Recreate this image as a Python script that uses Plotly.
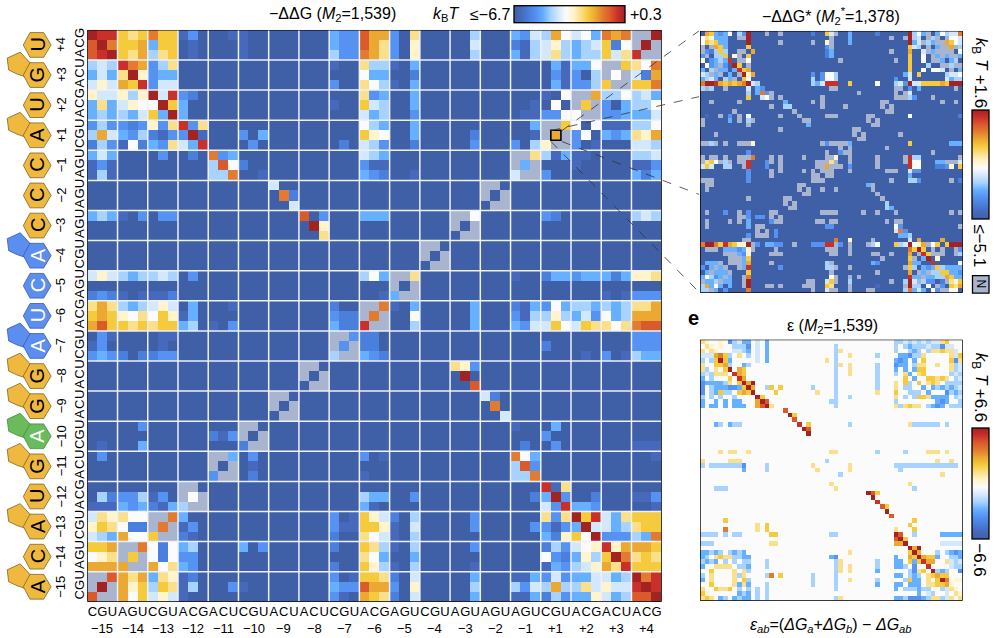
import plotly.graph_objects as go

# ---------------- data ----------------
POSITIONS = ["−15","−14","−13","−12","−11","−10","−9","−8","−7","−6","−5","−4","−3","−2","−1","+1","+2","+3","+4"]
MUTATIONS = ["CGU","AGU","CGU","ACG","ACU","CGU","ACU","ACU","CGU","ACG","AGU","CGU","AGU","AGU","AGU","CGU","ACG","ACU","ACG"]
SEQUENCE  = ["A","C","A","U","G","A","G","G","A","U","C","A","C","C","C","A","U","G","U"]
SEQ_GROUP = ["y","y","y","y","y","g","y","y","b","b","b","b","y","y","y","y","y","y","y"]

# shade codes: 16 steps per panel, n = no data; rows run top to bottom, the matrix mirrors across its antidiagonal
CODES = ".123456789abcdef"
LEVELS_DDG  = [-6.7,-6.23,-5.77,-5.3,-4.83,-4.37,-3.9,-3.43,-2.97,-2.5,-2.03,-1.57,-1.1,-0.63,-0.17,0.3]
LEVELS_STAR = [-5.1,-4.65,-4.21,-3.76,-3.31,-2.87,-2.42,-1.97,-1.53,-1.08,-0.63,-0.19,0.26,0.71,1.15,1.6]
LEVELS_EPS  = [-6.6,-5.72,-4.84,-3.96,-3.08,-2.2,-1.32,-0.44,0.44,1.32,2.2,3.08,3.96,4.84,5.72,6.6]

DDG_ROWS = [
"fee a9a caa 13. ..1 1.. ... ... 433 dbb 3.9 ... ..5 ... 436 5b7 674 cbc nnf",
"dfc aab 4aa .1. ... 1.. ... ... 433 db9 3.8 ... ..6 ... 215 685 456 a27 nf",
"def a9b 59a .1. ... 1.. ... ... 533 cb9 3.8 ... ..5 ... 415 695 455 a69 e",
"565 ecb 359 ... ... ... ... ... 1.. 955 1.4 ... ... ... ... .41 447 nna",
"464 9f8 344 ... ... ... ... ... ... 744 ..2 ... ... ... ... .31 3.5 n7",
"686 bae 366 ... ... ... ... ... 3.. 975 1.4 ... ... ... ... .41 335 a",
"866 858 f6e 32. ... ... ... ... ... 934 ..4 ... ... ... ... 1.7 nnb",
"494 687 7fa 4.. ... ... ... ... 1.. a65 ..4 ... ... ... ..1 .7. na",
"454 546 a4f 4.. ... ... ... ... ... 645 ..3 ... ... ... .11 337 7",
"353 323 839 e39 ... ... ... ... ... 754 ..4 ... ... ... ..4 nna",
"5b6 435 213 3f1 ... 3.4 ... ... ... a87 ..4 ... ..2 ... ..1 nb",
"253 172 439 64e ... .3. ... ... .2. 653 ..2 ... ..3 ... 3.5 8",
"464 ... .3. .2. c34 ... ... ... ... 654 ... ... ... ... nn9",
"131 ... ... ... 5d7 2.. ... ... ... 311 ... ... ... ... n4",
"151 ... ... ... 55c ..1 ... ... ... 432 ..1 ... ... ... 6",
"... ... ... ... ... ... 6.. ... ... ... ... ... ... nn.",
"... ... ... ... ... ... .c2 ... ... ... ... ... ... n.",
"... ... ... ... ... ... ..6 ... ... ... ... ... ... .",
"454 1.3 .33 ... ... ... ... d.3 ... 444 ... ... nn7",
"... ... ... ... ... ... ... .f8 ... ... ... ... n.",
"... ... ... ... ... ... ... ..9 ... ... ... ... .",
"... ... ... ... ... ... ... ... ... ... ... nn.",
"... ... ... ... ... ... ... ... ... ... ... n.",
"... ... ... ... ... ... ... ... ... ... ... .",
"686 545 565 .3. ... ... ... ... ... 574 nn9",
"... ... ... ... ... ... ... ... ... ... n.",
"232 1.1 112 ... ... ... ... ... ... ..1 4",
"9b9 545 686 .4. ..1 ... ... ... 2.. nnc",
"aba 879 7a8 14. ... ... ... ... 322 nc",
"bda a9a 9aa 45. 1.3 ... ... ... 422 e",
".31 ... .11 ... ... ... ... ... nn3",
"13. ... .1. ... ... ... ... ... n3",
"343 2.2 233 ... ... ... ... ... 5",
"... ... ... ... ... ... ... nn.",
"... ... ... ... ... ... ... n.",
"... ... ... ... ... ... ... .",
"... ... ... ... ... ... nn.",
"... ... ... ... ... ... n.",
"... ... ... ... ... ... .",
"... ..3 ... ... ... nn.",
"... ... ... ... 213 n.",
".1. ..4 ... ... ... 2",
".3. ... ... ... nn4",
"... ... ... ... n.",
"... ... ... ... 3",
"... ... ... nn.",
".52 335 13. n7",
"111 434 214 5",
"698 977 nnc",
"8a9 722 nc",
"654 b77 a",
"aab nnc",
"789 na",
"bbb b",
"nnd",
"nf",
"d",
]

STAR_ROWS = [
".ba 434 7.5 3f. ..n ..n ... ... 2.. a6n ..4 ... ..2 ... ... f57 4n. 475 66c",
"798 444 ..n nf. ... ... ... ... ... .n. ..4 ... ... ..n ..n f56 .n5 n.n 77",
"7a9 a44 ... .f. ... ..n ... ... n.. 8n. ..4 ... ... ... ... f46 n54 nnb a",
"n.n ba4 ... .a. ... ... ... ... ... 3n. ... ... ... ... ... a65 .n. 4nn",
"n32 5a5 ..n n.b ... ... ... ... ... 24. ... ... ... ..n ... b.. 6n4 nnn",
"3n. 55a .8n .a. ... ... ... ... ... 24. ... ... ... ... ... a.. 7.n 4n",
"7.3 454 e.n n7. ... ... ... ... ... ... n.. ... ... ... n.. a.. 7.n",
".73 4n3 .fa .n. ... ... ... ... ... ... ... ... ... ... ... a.. .5n",
"4.5 n44 .4e ab. ... ... ... ... ... ... ... ... ... ... ... a.. 7",
"65n 4n. 4.n f8b ... ... ... ... 3.3 775 ... ... ... ... ..4 6.a",
"456 4.5 4n. a7. ... ... ... ... 5.3 775 ... ... ... ... 3.. 6.",
"cff eba bab cf6 5.. ... ... ... 546 eee ..a ... ..7 ... 563 f",
"5n5 ..n ... .6. 43. ... ... ... ... .nn ... ... ... ... nn.",
"... ... ... .5. 4c3 n.. ... ... ... ... ... .n. ... ... n.",
"... ... ... .a. .67 n.n ... ... ..n ... ... ... ... ... n",
"..n ... ..n ... ... ... 4.. ... n.n ... ... ... ... nn.",
"... ... ... ... ... n.. 55. ... ..n ... .n. ... ... n.",
"... ... .n. ... ... ... ..n ... ... ... ... ... ... .",
".1. .n. 3.n .7. ... ..n ... n.. ... nnn ... ... nn.",
"n.. ... 4.n .5n ... ... ... .nn ... ... ... ... n.",
"n.. ... ... .n. ... ... ... ..4 ... ... ... ... .",
"... ... ... ... ... ..n ... ... ... ... ... nn.",
"... n.. ... ... ... ... ... ... ... ... ... n.",
"... ... ... ... ... ... ... ... ... ... ... .",
"nn5 n.n ..n nn8 ... ... ... ... ..n 3nn nn4",
"... ... ... ... ... ... ... ... ... ... n.",
"... ... ... .3. ... ... ... ... ... n.. 3",
"n.n n.n ..n nnc ... n.n ... .n. ... nn8",
"n9a 7n5 n.n ne. ..3 n.n ... ... .nn n9",
"6a6 ..5 5.. ne. ..3 ..n ... ... .nn b",
"... ... ... .3. ... n.n ... .n. n.n",
"... ... ... .3. ... n.. ... ... nn",
"nnn ... ... .3. ... ... ... ... n",
".nn ... ... ... ... ... ... nn.",
".n. ... ... ... ... ... ... n.",
"... ... ... ... ... ... ... .",
"... ... ... .n. ... ... nn.",
"... ... ... ... ... ... n.",
"... ... ... ... ... ... .",
".n. ..3 ..n .3. ... nn.",
"... ... ..n n3. 33. n.",
".n. ... n.n .4. ... 3",
".n. ... ... .4. nn.",
"... ... ... ... n.",
"... ... ... .3. n",
"... ... ... nn.",
"cff cae ba8 8f",
".nn n.4 443 4",
"... ..n nn4",
"... ... nn",
".44 4n. n",
"3.4 n4n",
".4n 44",
"475 3",
"n44",
"5b",
"5",
]

EPS_ROWS = [
"98. .8. 356 44. 6.4 ... ... ... ... ... ... ... ... ... 556 565 656 69a ...",
".98 .8. .55 53. 6.4 ... ... ... ... ..5 ... ... ... ... 5.5 455 565 536 6.",
"9.9 8.. .66 54. 6.4 ... ... ... ... ..5 9.. ... ... ... 5.. 545 .59 9a9 9.5",
"666 bca 5.9 .5. 6.4 ... ... ... ... ..5 ..9 ... ..5 ... .44 355 9.. ...",
"5.5 afa 4.. ... 6.4 ... ... ... ... 9.5 ... ... ... ... 434 .4. a.. ...",
"9.. aab 5.. 45. ... ... ... ... ... ..5 9.9 ... ..5 ... 344 .59 9.. 9",
"95. 9.a f.b a.. ... ... ... ... ... ..5 ..9 ... ..5 ... 4.4 .4a a..",
"565 999 .eb a.. ... ... ... ... ... ..5 ..9 ... ..5 ... 5.9 4.9 a.",
"4.5 ... a.e b.. ... ... ... ... ... ..5 ... ... ..5 ... ..a .4. .",
"344 445 9.a fbf ... ... ... ... ... ..5 ... ... ..5 ... 9.a 5.a",
"3.5 444 334 afb ..5 a.a ... ... 5.. ..5 ... ... ..5 ... 9.5 5.",
"3.5 4a5 5.a baf ... .a. ... ... .9. ..5 ... ... ..9 ... a.. 5",
"5.5 .5. .5. ... fa. ... ... ... ... ..5 ..5 ... ... ... 9.5",
"4.. 4.4 .44 ... bfd ... ... ... ... .55 ... ... ... ... 5.",
"4.4 4.4 .44 4.. bdf 9.. ... ... ... ..5 ... ... ... ... 9",
"... ... ... ... ... ... d..",
"... ... ... ... ... ... .fa",
"... ... ... ... ... ... ..d",
"... 45. 455 ... ... ... ... e.a ... ... ..5",
"... ... ... ... ... ... ... .fd",
"... ... ... ... ... ... ... ..f",
"", "", "",
"... .9. 99. .9. ... ... ... ... ... .99",
"",
"9.. ... 999 ... ... ... ... ... ... 5.. .",
"5.5 555 555 3.. ..5 ... ... ... 9.. .",
"... ... ... 4.. ..5 ... ... ... .9. .",
"", "", "",
"... 555",
"", "", "", "", "", "",
"... ..a",
"... ... ... ... 9.a",
"... ..c ... ... 9.a",
"555 5.5 .55",
"",
"555",
"",
"445 45. 545 4.",
"45. 9a9 955 4",
"545 4.5 .5.",
"4.. 999 9.",
"..a ... .",
"5.9 ...",
"4.9 ..",
"..a .",
"9..",
"a8",
"9",
]

PALETTE = ["#3F5FA6","#4669BC","#4A7FDC","#5592F2","#66B0FF","#A8D2FF","#D4E8FB","#FBFBFB",
           "#FFF4CC","#FBE08C","#F5CA3C","#EBA833","#E27B2F","#DB5A2C","#C9302A","#A32222"]
MISSING = "#A9B4CE"
FONT = "Liberation Sans"
N = 57


def build(rows, levels, floor):
    grid = [[levels[floor]] * N for _ in range(N)]
    for r, text in enumerate(rows):
        for c, ch in enumerate(text.replace(" ", "")[:N - r]):
            v = None if ch == "n" else levels[floor if ch == "." else CODES.index(ch)]
            grid[r][c] = v
            grid[N - 1 - c][N - 1 - r] = v
    return grid


W, H = 1000, 638
def px(x): return x / W
def py(y): return 1 - y / H

SCALE = [[i / 15, col] for i, col in enumerate(PALETTE)]
fig = go.Figure()

def cbar(**kw):
    return dict(lenmode="pixels", thicknessmode="pixels", thickness=17, outlinewidth=1.3, outlinecolor="black",
                ticks="", showticklabels=False, xpad=0, ypad=0, **kw)

cells = list(range(N))
fig.add_trace(go.Heatmap(z=build(DDG_ROWS, LEVELS_DDG, 0), x=cells, y=cells, xaxis="x", yaxis="y",
    zmin=LEVELS_DDG[0], zmax=LEVELS_DDG[-1], colorscale=SCALE,
    colorbar=cbar(orientation="h", len=110.7, x=px(569.6), xanchor="center", y=py(21.7), yanchor="bottom")))
fig.add_trace(go.Heatmap(z=build(STAR_ROWS, LEVELS_STAR, 0), x=cells, y=cells, xaxis="x2", yaxis="y2",
    zmin=LEVELS_STAR[0], zmax=LEVELS_STAR[-1], colorscale=SCALE,
    colorbar=cbar(len=109, x=px(971.7), xanchor="left", y=py(163.5), yanchor="middle")))
fig.add_trace(go.Heatmap(z=build(EPS_ROWS, LEVELS_EPS, 7), x=cells, y=cells, xaxis="x3", yaxis="y3",
    zmin=LEVELS_EPS[0], zmax=LEVELS_EPS[-1], colorscale=SCALE,
    colorbar=cbar(len=110.6, x=px(971.7), xanchor="left", y=py(483), yanchor="middle")))

letters = "".join(MUTATIONS)
def axis(dom, reverse=False, **kw):
    rng = [N - 0.5, -0.5] if reverse else [-0.5, N - 0.5]
    return dict(domain=dom, range=rng, showgrid=False, zeroline=False, showline=False, constrain="domain", **kw)

lab = dict(tickmode="array", tickvals=cells, ticklen=0, tickfont=dict(family=FONT, size=13, color="black"))
none = dict(showticklabels=False, ticks="")
fig.update_layout(
    width=W, height=H, margin=dict(l=0, r=0, t=0, b=0, pad=0), autosize=False,
    paper_bgcolor="white", plot_bgcolor=MISSING, font=dict(family=FONT, color="black"), showlegend=False,
    xaxis=axis([px(87.3), px(661.7)], ticktext=list(letters), tickangle=0, **lab),
    yaxis=axis([py(601.7), py(28)], reverse=True, ticktext=list(letters[::-1]), tickangle=-90, **lab),
    xaxis2=axis([px(700), px(962.7)], **none),
    yaxis2=axis([py(291.7), py(29)], reverse=True, **none),
    xaxis3=axis([px(700), px(962.7)], **none),
    yaxis3=axis([py(600.7), py(338.7)], reverse=True, **none),
)

shapes, notes = [], []

def text(x, y, s, size=15, angle=0, color="black", **kw):
    d = dict(xref="paper", yref="paper", x=px(x), y=py(y), text=s, showarrow=False, textangle=angle,
             font=dict(family=FONT, size=size, color=color), xanchor="center", yanchor="middle")
    d.update(kw)
    notes.append(d)

# white block separators
for k in range(1, len(POSITIONS)):
    b = 3 * k - 0.5
    shapes.append(dict(type="line", xref="x", yref="y", x0=b, x1=b, y0=-0.5, y1=N - 0.5, line=dict(color="#EEF1F7", width=1.5)))
    shapes.append(dict(type="line", xref="x", yref="y", y0=b, y1=b, x0=-0.5, x1=N - 0.5, line=dict(color="#EEF1F7", width=1.5)))

# panel frames
for xr, yr in (("x", "y"), ("x2", "y2"), ("x3", "y3")):
    shapes.append(dict(type="rect", xref=xr, yref=yr, x0=-0.5, x1=N - 0.5, y0=-0.5, y1=N - 0.5, line=dict(color="black", width=1.4)))

# position numbers along both axes
for k, p in enumerate(POSITIONS):
    notes.append(dict(xref="x", yref="paper", x=3 * k + 1, y=py(628), text=p, showarrow=False,
                      font=dict(family=FONT, size=13), xanchor="center", yanchor="middle"))
    notes.append(dict(xref="paper", yref="y", x=px(61), y=N - 2 - 3 * k, text=p, showarrow=False, textangle=-90,
                      font=dict(family=FONT, size=13), xanchor="center", yanchor="middle"))

# nucleotide glyphs
HEX = [(-13.9, 0), (-7.2, -12.4), (6.5, -12.4), (13.9, 0), (6.5, 12.4), (-7.2, 12.4)]
TAIL = [(-30, -17), (-17, -23), (-6, -11), (-11, 2), (-20, -1), (-28.5, -5)]
FILLS = {"y": ("#EFB93F", "#7C6426", "black"), "b": ("#5B8EEE", "#3A5BA8", "white"), "g": ("#69BB5B", "#4A8A3F", "white")}

def poly(cx, cy, pts):
    return "M " + " L ".join(f"{px(cx + a):.5f} {py(cy + b):.5f}" for a, b in pts) + " Z"

cell_h = (601.7 - 28) / N
for k, (base, grp) in enumerate(zip(SEQUENCE, SEQ_GROUP)):
    cy = 601.7 - (3 * k + 1.5) * cell_h
    fill, edge, ink = FILLS[grp]
    if base in "AG":
        shapes.append(dict(type="path", xref="paper", yref="paper", path=poly(37.2, cy, TAIL), fillcolor=fill, line=dict(color=edge, width=0.8)))
    shapes.append(dict(type="path", xref="paper", yref="paper", path=poly(37.2, cy, HEX), fillcolor=fill, line=dict(color=edge, width=0.8)))
    text(37.5, cy, base, size=20, angle=-90, color=ink)

# highlighted cell and guide lines
shapes.append(dict(type="rect", xref="x", yref="y", x0=45.5, x1=46.5, y0=9.5, y1=10.5, line=dict(color="black", width=1.6)))
GUIDES = [((562, 129), (699, 29)), ((551, 129), (699, 95)), ((562, 140), (699, 193)), ((551, 140), (699, 291))]
for (a, b), (c, d) in GUIDES:
    shapes.append(dict(type="line", xref="paper", yref="paper", x0=px(a), y0=py(b), x1=px(c), y1=py(d),
                       line=dict(color="#333333", width=0.8, dash="9px,9px")))

# N swatch
shapes.append(dict(type="rect", xref="paper", yref="paper", x0=px(972.5), x1=px(989), y0=py(292), y1=py(274.5),
                   fillcolor=MISSING, line=dict(color="black", width=1.3)))
text(980.8, 283.3, "N", size=12, angle=90)

# titles and labels
text(332, 13, "−ΔΔG (<i>M</i><sub>2</sub>=1,539)", size=16)
text(446, 13, "<i>k</i><sub>B</sub><i>T</i>", size=16)
text(490, 13, "≤−6.7", size=16)
text(646, 13, "+0.3", size=16)
text(831, 14, "−ΔΔG* (<i>M</i><sub>2</sub><sup>*</sup>=1,378)", size=16)
text(980, 52, "<i>k</i><sub>B</sub> <i>T</i>", size=17, angle=90)
text(980, 90, "+1.6", size=17, angle=90)
text(980, 244, "≤−5.1", size=17, angle=90)
text(693, 317, "<b>e</b>", size=20)
text(832, 326, "ε (<i>M</i><sub>2</sub>=1,539)", size=16)
text(980, 368, "<i>k</i><sub>B</sub> <i>T</i>", size=17, angle=90)
text(980, 405, "+6.6", size=17, angle=90)
text(980, 560, "−6.6", size=17, angle=90)
text(831, 625, "<i>ε<sub>ab</sub></i>=(<i>ΔG<sub>a</sub></i>+<i>ΔG<sub>b</sub></i>) − <i>ΔG<sub>ab</sub></i>", size=16)

fig.update_layout(shapes=shapes, annotations=notes)
fig.write_html("out.html", config={"displayModeBar": False}, post_script="document.body.style.margin='0';")
